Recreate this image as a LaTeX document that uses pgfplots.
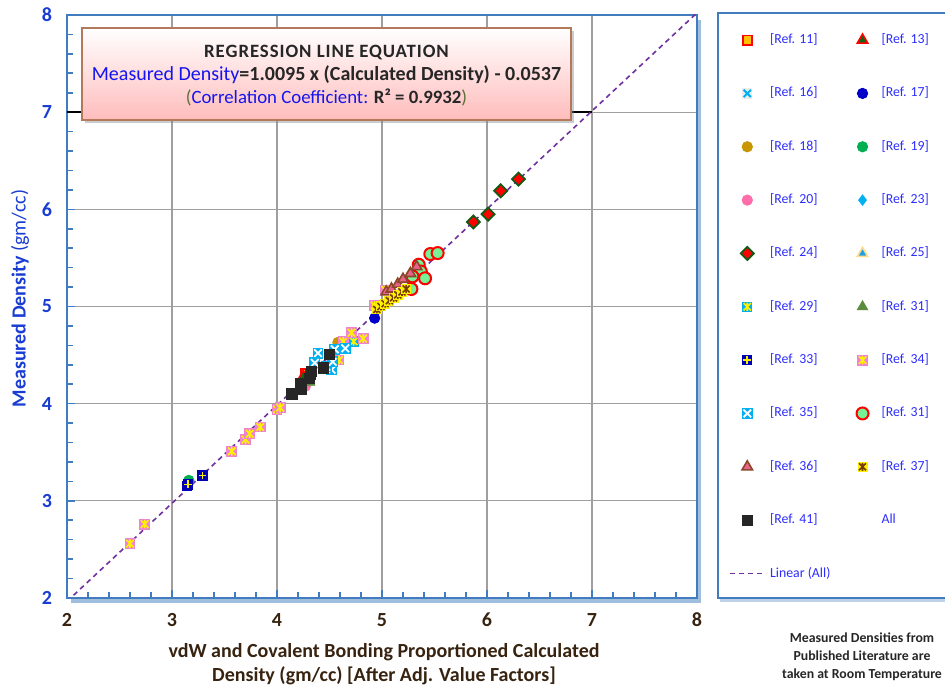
\documentclass[border=0pt]{standalone}
\usepackage{fontspec}
\setmainfont{Carlito}
\usepackage{pgfplots}
\pgfplotsset{compat=1.18}
\usetikzlibrary{shadows,calc}
\definecolor{frameblue}{RGB}{65,125,190}
\definecolor{xlab}{RGB}{55,35,15}
\definecolor{ylab}{RGB}{25,60,210}
\definecolor{legtext}{RGB}{45,45,255}
\definecolor{titlegray}{RGB}{38,38,38}
\definecolor{boxpink}{RGB}{255,188,188}
\definecolor{boxborder}{RGB}{180,120,90}
\definecolor{linpurple}{RGB}{112,48,160}
\definecolor{olive}{RGB}{90,110,50}
\definecolor{eqblue}{RGB}{20,20,240}
\definecolor{cyanx}{RGB}{0,176,240}
\pgfdeclareplotmark{sqx}{%
  \pgfpathrectangle{\pgfpoint{-\pgfplotmarksize}{-\pgfplotmarksize}}{\pgfpoint{2\pgfplotmarksize}{2\pgfplotmarksize}}%
  \pgfusepathqfill
  \pgfpathmoveto{\pgfpoint{-0.7\pgfplotmarksize}{-0.7\pgfplotmarksize}}%
  \pgfpathlineto{\pgfpoint{0.7\pgfplotmarksize}{0.7\pgfplotmarksize}}%
  \pgfpathmoveto{\pgfpoint{-0.7\pgfplotmarksize}{0.7\pgfplotmarksize}}%
  \pgfpathlineto{\pgfpoint{0.7\pgfplotmarksize}{-0.7\pgfplotmarksize}}%
  \pgfusepathqstroke}
\pgfdeclareplotmark{sqast}{%
  \pgfpathrectangle{\pgfpoint{-\pgfplotmarksize}{-\pgfplotmarksize}}{\pgfpoint{2\pgfplotmarksize}{2\pgfplotmarksize}}%
  \pgfusepathqfill
  \pgfpathmoveto{\pgfpoint{-0.7\pgfplotmarksize}{-0.7\pgfplotmarksize}}%
  \pgfpathlineto{\pgfpoint{0.7\pgfplotmarksize}{0.7\pgfplotmarksize}}%
  \pgfpathmoveto{\pgfpoint{-0.7\pgfplotmarksize}{0.7\pgfplotmarksize}}%
  \pgfpathlineto{\pgfpoint{0.7\pgfplotmarksize}{-0.7\pgfplotmarksize}}%
  \pgfpathmoveto{\pgfpoint{0pt}{-0.8\pgfplotmarksize}}%
  \pgfpathlineto{\pgfpoint{0pt}{0.8\pgfplotmarksize}}%
  \pgfusepathqstroke}
\pgfdeclareplotmark{sqplus}{%
  \pgfpathrectangle{\pgfpoint{-\pgfplotmarksize}{-\pgfplotmarksize}}{\pgfpoint{2\pgfplotmarksize}{2\pgfplotmarksize}}%
  \pgfusepathqfill
  \pgfpathmoveto{\pgfpoint{-0.75\pgfplotmarksize}{0pt}}%
  \pgfpathlineto{\pgfpoint{0.75\pgfplotmarksize}{0pt}}%
  \pgfpathmoveto{\pgfpoint{0pt}{-0.75\pgfplotmarksize}}%
  \pgfpathlineto{\pgfpoint{0pt}{0.75\pgfplotmarksize}}%
  \pgfusepathqstroke}
\newcommand\px[2]{({(#1-67)*0.5pt},{(598-#2)*0.5pt})}
\begin{document}
\begin{tikzpicture}
% frames with shadows
\fill[white, drop shadow={shadow xshift=2pt, shadow yshift=-2.5pt, opacity=0.5, fill=frameblue}] \px{67}{15} rectangle \px{697}{598};
\draw[frameblue, line width=1.2pt, fill=white, drop shadow={shadow xshift=1pt, shadow yshift=-2pt, opacity=0.35, fill=frameblue}] \px{718}{13} rectangle \px{1000}{598};
\begin{axis}[
  name=ax, at={(0,0)}, anchor=south west,
  scale only axis, width=315pt, height=291.5pt,
  xmin=2, xmax=8, ymin=2, ymax=8,
  xtick={2,...,8}, ytick={2,...,8},
  minor tick num=4,
  grid=major, major grid style={gray!75, line width=0.6pt},
  axis line style={draw=frameblue, line width=1.2pt},
  tick style={frameblue, line width=0.8pt},
  tick align=inside,
  xtick pos=left, ytick pos=left,
  major tick length=4pt, minor tick length=3pt,
  xticklabel style={font=\fontsize{10}{12}\selectfont\bfseries, text=xlab, yshift=-4pt},
  yticklabel style={font=\fontsize{10}{12}\selectfont\bfseries, text=ylab, xshift=-4pt},
  /pgf/number format/assume math mode=true,
  legend columns=2,
  legend cell align=left,
  legend style={draw=none, fill=none, at={(1.0508,1.0034)}, anchor=north west,
    font=\fontsize{6.9}{8}\selectfont, text=legtext, inner sep=0pt, row sep=0pt,
    nodes={minimum height=26.67pt, inner ysep=0pt, inner xsep=2.5pt},
    /tikz/every even column/.append style={column sep=5pt},
    /tikz/column 3/.style={column sep=4pt}},
]
\addplot[black, line width=1pt, forget plot] coordinates {(2,7) (7,7)};
% Ref 11
\addplot[only marks, mark=square*, mark size=2.3pt, mark options={fill={rgb,255:red,255;green,192;blue,0}, draw=red, line width=0.9pt}] coordinates {(4.27,4.31)};
\addlegendentry{[Ref. 11]}
% Ref 13
\addplot[only marks, mark=triangle*, mark size=3pt, mark options={fill={rgb,255:red,20;green,100;blue,20}, draw=red, line width=0.8pt}] coordinates {(4.25,4.28)};
\addlegendentry{[Ref. 13]}
% Ref 16
\addplot[only marks, mark=sqx, mark size=2.6pt, mark options={fill=gray!15, draw=cyanx, line width=1pt}] coordinates {(4.66,4.57) (4.62,4.60)};
\addlegendentry{[Ref. 16]}
% Ref 17
\addplot[only marks, mark=*, mark size=2.6pt, mark options={fill={rgb,255:red,0;green,0;blue,200}, draw={rgb,255:red,0;green,0;blue,200}}] coordinates {(4.93,4.88)};
\addlegendentry{[Ref. 17]}
% Ref 18
\addplot[only marks, mark=*, mark size=2.6pt, mark options={fill={rgb,255:red,200;green,150;blue,0}, draw={rgb,255:red,200;green,150;blue,0}}] coordinates {(4.58,4.63)};
\addlegendentry{[Ref. 18]}
% Ref 19
\addplot[only marks, mark=*, mark size=2.6pt, mark options={fill={rgb,255:red,0;green,176;blue,80}, draw={rgb,255:red,0;green,176;blue,80}}] coordinates {(3.16,3.21)};
\addlegendentry{[Ref. 19]}
% Ref 20
\addplot[only marks, mark=*, mark size=2.6pt, mark options={fill={rgb,255:red,255;green,110;blue,170}, draw={rgb,255:red,255;green,110;blue,170}}] coordinates {(4.27,4.18)};
\addlegendentry{[Ref. 20]}
% Ref 23
\addplot[only marks, mark=diamond*, mark size=2.6pt, mark options={fill=cyanx, draw=cyanx}] coordinates {(4.74,4.66)};
\addlegendentry{[Ref. 23]}
% Ref 24
\addplot[only marks, mark=square*, mark size=2.3pt, mark options={rotate=45, fill=red, draw={rgb,255:red,20;green,90;blue,20}, line width=0.9pt}] coordinates {(5.87,5.87) (6.01,5.95) (6.13,6.19) (6.30,6.31)};
\addlegendentry{[Ref. 24]}
% Ref 25
\addplot[only marks, mark=triangle*, mark size=3pt, mark options={fill={rgb,255:red,30;green,160;blue,230}, draw={rgb,255:red,255;green,220;blue,140}, line width=0.8pt}] coordinates {(4.72,4.68)};
\addlegendentry{[Ref. 25]}
% Ref 29
\addplot[only marks, mark=sqast, mark size=2.6pt, mark options={fill=cyanx, draw=yellow, line width=0.8pt}] coordinates {(4.73,4.64)};
\addlegendentry{[Ref. 29]}
% Ref 31
\addplot[only marks, mark=triangle*, mark size=3pt, mark options={fill={rgb,255:red,90;green,140;blue,60}, draw={rgb,255:red,90;green,140;blue,60}}] coordinates {(4.31,4.22)};
\addlegendentry{[Ref. 31]}
% Ref 33
\addplot[only marks, mark=sqplus, mark size=2.6pt, mark options={fill={rgb,255:red,0;green,0;blue,180}, draw=yellow, line width=0.8pt}] coordinates {(3.14,3.15) (3.15,3.17) (3.29,3.26)};
\addlegendentry{[Ref. 33]}
% Ref 34
\addplot[only marks, mark=sqast, mark size=2.7pt, mark options={fill={rgb,255:red,240;green,130;blue,210}, draw=yellow, line width=0.8pt}] coordinates {(2.60,2.56) (2.74,2.76) (3.57,3.51) (3.70,3.63) (3.74,3.69) (3.84,3.76) (4.00,3.94) (4.03,3.96) (4.59,4.45) (4.63,4.64) (4.71,4.73) (4.82,4.67) (4.93,5.01) (5.03,5.17)};
\addlegendentry{[Ref. 34]}
% Ref 35
\addplot[only marks, mark=sqx, mark size=2.7pt, mark options={fill=cyanx, draw=white, line width=0.9pt}] coordinates {(4.39,4.52) (4.36,4.42) (4.52,4.35) (4.55,4.56) (4.47,4.38) (4.65,4.57) (4.53,4.43)};
\addlegendentry{[Ref. 35]}
% Ref 31 (second)
\addplot[only marks, mark=*, mark size=3pt, mark options={fill={rgb,255:red,120;green,240;blue,150}, draw=red, line width=1pt}] coordinates {(5.46,5.54) (5.53,5.55) (5.35,5.43) (5.37,5.36) (5.41,5.29) (5.29,5.31) (5.28,5.18)};
\addlegendentry{[Ref. 31]}
% Ref 36
\addplot[only marks, mark=triangle*, mark size=3pt, mark options={fill={rgb,255:red,230;green,100;blue,140}, draw={rgb,255:red,140;green,70;blue,40}, line width=0.8pt}] coordinates {(5.04,5.15) (5.09,5.18) (5.15,5.23) (5.20,5.28) (5.27,5.34) (5.33,5.41)};
\addlegendentry{[Ref. 36]}
% Ref 37
\addplot[only marks, mark=sqast, mark size=2.5pt, mark options={fill=yellow, draw={rgb,255:red,120;green,60;blue,0}, line width=0.8pt}] coordinates {(4.95,4.97) (4.99,5.00) (5.03,5.03) (5.07,5.06) (5.11,5.09) (5.15,5.12) (5.19,5.15) (5.23,5.18)};
\addlegendentry{[Ref. 37]}
% Ref 41
\addplot[only marks, mark=square*, mark size=2.6pt, mark options={fill=titlegray, draw=titlegray}] coordinates {(4.14,4.10) (4.22,4.21) (4.23,4.15) (4.31,4.26) (4.33,4.33) (4.32,4.30) (4.44,4.37) (4.50,4.51)};
\addlegendentry{[Ref. 41]}
% All
\addplot[draw=none, mark=none, legend image code/.code={}] coordinates {(2.60,2.56) (6.30,6.31)};
\addlegendentry{All}
% Linear
\addplot[linpurple, line width=0.8pt, dash pattern=on 2.5pt off 2pt] coordinates {(2,1.9653) (8,8.0223)};
\addlegendentry{Linear (All)}
\end{axis}
% title box
\draw[boxborder, line width=0.8pt, top color=white, bottom color=boxpink, drop shadow={shadow xshift=1.5pt, shadow yshift=-1.5pt, opacity=0.4}] \px{82}{28} rectangle \px{571}{120};
\node[font=\fontsize{9.4}{11}\selectfont\bfseries\addfontfeature{LetterSpace=5}, text=titlegray] at \px{326.5}{53} {REGRESSION LINE EQUATION};
\node[font=\fontsize{10}{12}\selectfont, text=titlegray] at \px{326.5}{75} {\textcolor{eqblue}{Measured Density}\textbf{=1.0095 x (Calculated Density) - 0.0537}};
\node[font=\fontsize{9.4}{12}\selectfont, text=titlegray] at \px{326.5}{98} {\textcolor{olive}{(}\textcolor{eqblue}{Correlation Coefficient: }\textbf{R² = 0.9932}\textcolor{olive}{)}};
% axis labels
\node[rotate=90, font=\fontsize{10}{12}\selectfont, text=ylab] at \px{20}{298.5} {\textbf{Measured Density} (gm/cc)};
\node[font=\fontsize{10}{12}\selectfont\bfseries, text=xlab] at \px{384}{652} {vdW and Covalent Bonding Proportioned Calculated};
\node[font=\fontsize{10}{12}\selectfont\bfseries, text=xlab] at \px{384}{676} {Density (gm/cc) [After Adj. Value Factors]};
% note
\node[font=\fontsize{6.9}{8}\selectfont\bfseries, text=titlegray, align=center] at \px{862}{657} {Measured Densities from\\[1pt]Published Literature are\\[1pt]taken at Room Temperature};
\pgfresetboundingbox
\path[use as bounding box] \px{0}{688} rectangle \px{945}{0};
\end{tikzpicture}
\end{document}
